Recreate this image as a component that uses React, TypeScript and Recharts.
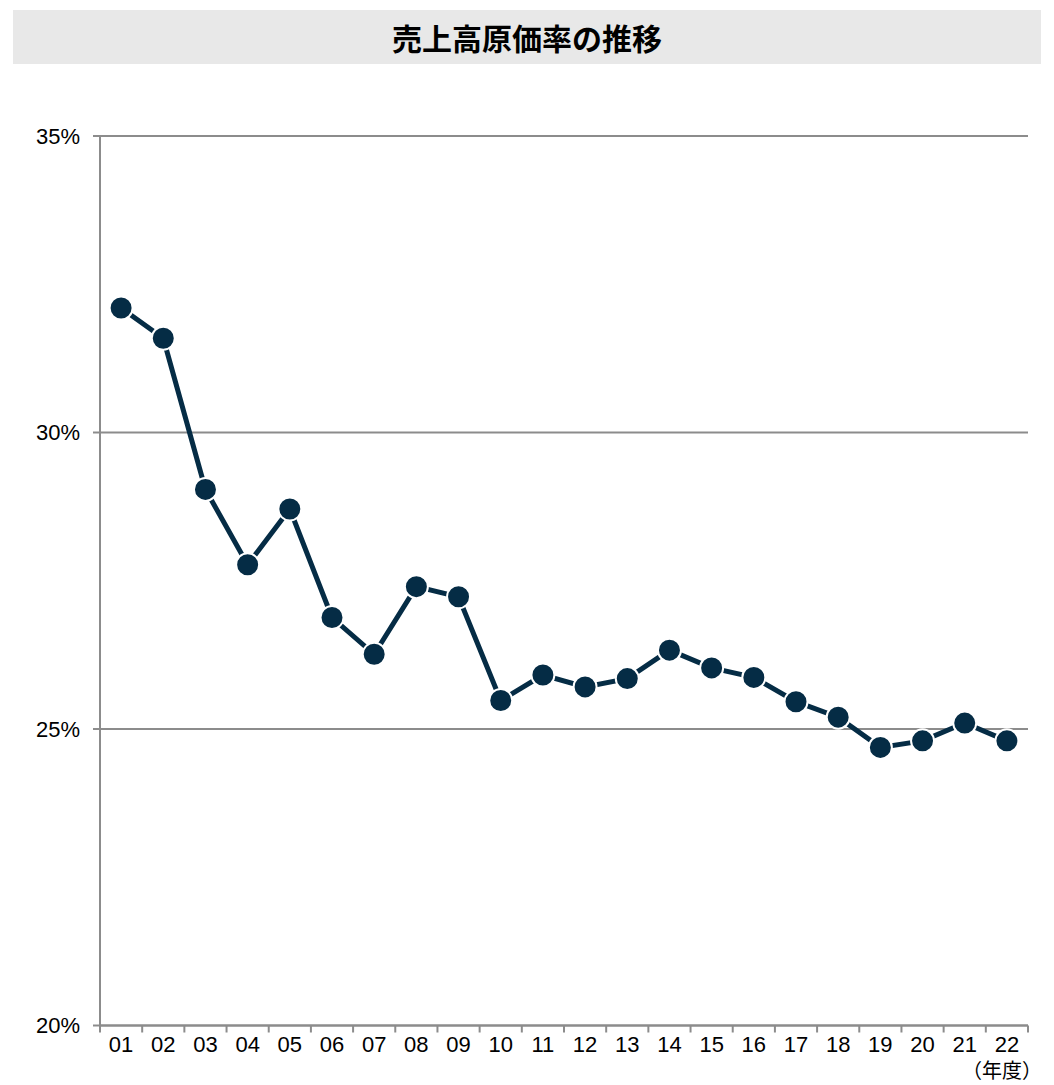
import React from 'react';
import { LineChart, Line, XAxis, YAxis, CartesianGrid } from 'recharts';

// Fiscal years (two-digit) and cost-of-sales ratio (%)
const years = ['01', '02', '03', '04', '05', '06', '07', '08', '09', '10', '11', '12', '13', '14', '15', '16', '17', '18', '19', '20', '21', '22'];
const costRatio = [32.1, 31.59, 29.04, 27.77, 28.71, 26.88, 26.26, 27.4, 27.23, 25.48, 25.91, 25.71, 25.85, 26.33, 26.03, 25.87, 25.46, 25.2, 24.69, 24.8, 25.1, 24.8];
const yTicks = [20, 25, 30, 35];

const data = years.map((year, i) => ({ year, ratio: costRatio[i] }));

const W = 1054;
const H = 1085;
const MARGIN = { top: 136, right: 26, bottom: 29.5, left: 40 };
const Y_AXIS_W = 60;
const X_AXIS_H = 30;
const TICK_SIZE = 7;
const TICK_MARGIN = 4;
const AXIS_COLOR = '#8c8c8c';
const LINE_COLOR = '#052c45';
const NUM_FONT = '"Liberation Sans", Arial, sans-serif';
const JP_FONT = '"Noto Sans CJK JP", "Noto Sans", sans-serif';
const NUM_SIZE = 22;

const plotWidth = W - MARGIN.left - MARGIN.right - Y_AXIS_W;
const halfBand = plotWidth / years.length / 2;

// Category labels centred in each band, with tick marks on the band boundaries
const XTick = (props: any) => {
  const { x, y, payload, index, visibleTicksCount } = props;
  const half = payload && payload.offset ? payload.offset : halfBand;
  const axisY = y - TICK_SIZE - TICK_MARGIN;
  const isLast = index === visibleTicksCount - 1;
  return (
    <g>
      <line x1={x - half} x2={x - half} y1={axisY} y2={axisY + TICK_SIZE} stroke={AXIS_COLOR} strokeWidth={2} />
      {isLast && (
        <line x1={x + half} x2={x + half} y1={axisY} y2={axisY + TICK_SIZE} stroke={AXIS_COLOR} strokeWidth={2} />
      )}
      <text x={x} y={y} dy="0.71em" textAnchor="middle" fill="#000" fontSize={NUM_SIZE} fontFamily={NUM_FONT}>
        {payload.value}
      </text>
    </g>
  );
};

export default function App() {
  return (
    <div style={{ position: 'absolute', left: 0, top: 0, width: W, height: H, overflow: 'hidden', background: '#fff' }}>
      <div
        style={{
          position: 'absolute',
          left: 13,
          top: 10,
          width: 1028,
          height: 54,
          background: '#e8e8e8',
          display: 'flex',
          alignItems: 'center',
          justifyContent: 'center',
          fontFamily: JP_FONT,
          fontWeight: 700,
          fontSize: 30,
          color: '#000',
        }}
      >
        売上高原価率の推移
      </div>
      <div style={{ position: 'absolute', left: 0, top: 0 }}>
        <LineChart width={W} height={H} data={data} margin={MARGIN}>
          <CartesianGrid vertical={false} stroke={AXIS_COLOR} strokeWidth={2} />
          <XAxis
            dataKey="year"
            scale="band"
            height={X_AXIS_H}
            interval={0}
            tickLine={false}
            tickSize={TICK_SIZE}
            tickMargin={TICK_MARGIN}
            axisLine={{ stroke: AXIS_COLOR, strokeWidth: 2 }}
            tick={<XTick />}
          />
          <YAxis
            width={Y_AXIS_W}
            domain={[20, 35]}
            ticks={yTicks}
            interval={0}
            tickFormatter={(v: number) => `${v}%`}
            tickSize={TICK_SIZE}
            tickMargin={13}
            tickLine={{ stroke: AXIS_COLOR, strokeWidth: 2 }}
            axisLine={{ stroke: AXIS_COLOR, strokeWidth: 2 }}
            tick={{ fill: '#000', fontSize: NUM_SIZE, fontFamily: NUM_FONT }}
          />
          <Line
            type="linear"
            dataKey="ratio"
            stroke={LINE_COLOR}
            strokeWidth={5}
            dot={{ r: 11.5, fill: LINE_COLOR, stroke: '#fff', strokeWidth: 2 }}
            isAnimationActive={false}
          />
        </LineChart>
      </div>
      <div
        style={{
          position: 'absolute',
          right: 12,
          top: 1060,
          fontFamily: JP_FONT,
          fontSize: 20,
          lineHeight: '20px',
          color: '#000',
          whiteSpace: 'nowrap',
        }}
      >
        （年度）
      </div>
    </div>
  );
}
